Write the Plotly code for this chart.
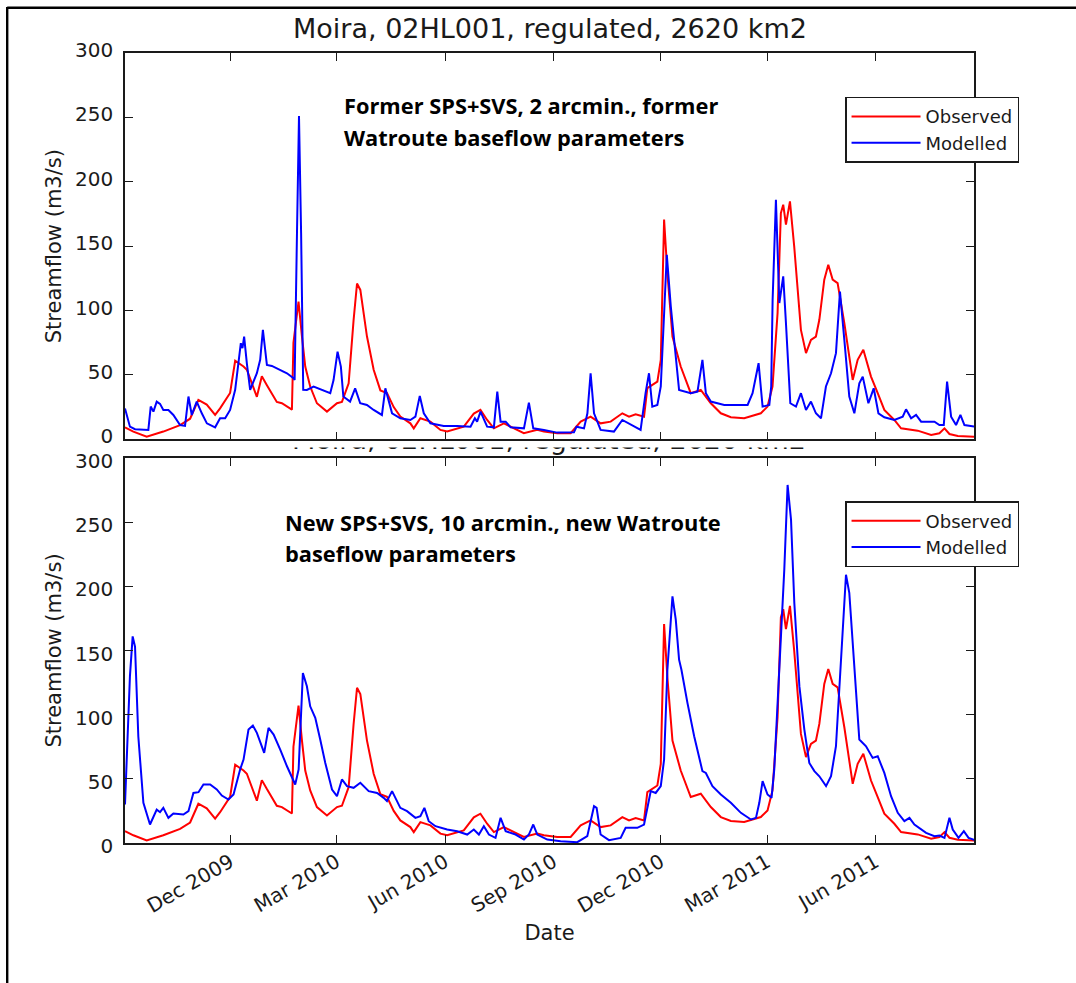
import pandas as pd
import plotly.graph_objects as go

# ---------------- data ----------------
START = "2009-09-01"   # day 0 of the day offsets below

obs_day = [1.7, 8.8, 20.1, 34.2, 48.4, 56.9, 63.9, 71.0, 78.1, 82.3, 90.8, 95.1, 102.2, 105.0,
           113.5, 117.7, 122.0, 130.4, 134.7, 143.2, 144.5, 147.5, 148.8, 151.7, 154.5, 158.7,
           164.4, 172.9, 181.4, 185.6, 191.3, 195.5, 198.4, 201.2, 206.8, 212.5, 218.2, 223.8,
           229.5, 235.1, 243.6, 246.5, 252.1, 260.6, 269.1, 274.8, 288.9, 297.4, 303.0, 308.7,
           314.4, 322.9, 331.4, 339.8, 351.2, 356.8, 368.1, 379.5, 388.0, 396.4, 404.9, 413.4,
           423.3, 429.0, 434.6, 441.7, 444.5, 453.0, 455.9, 458.7, 461.5, 465.8, 472.8, 481.3,
           489.8, 498.3, 506.8, 515.3, 526.6, 535.1, 540.7, 546.4, 550.6, 554.9, 557.7, 559.7,
           562.0, 565.4, 569.0, 574.7, 579.0, 583.2, 587.4, 590.3, 594.5, 597.9, 601.6, 605.8,
           611.5, 618.6, 622.8, 627.6, 634.1, 639.8, 645.4, 653.9, 659.6, 673.7, 685.1, 692.1,
           696.4, 700.6, 707.7, 722.4]
obs_flow = [9.3, 6.0, 2.0, 6.0, 11.0, 16.0, 30.6, 27.0, 19.0, 24.0, 36.0, 61.0, 56.5, 54.0,
            33.0, 49.0, 42.0, 29.0, 28.0, 23.0, 75.0, 100.0, 107.0, 80.0, 56.5, 41.0,
            28.0, 21.5, 28.0, 29.0, 43.5, 92.7, 121.0, 116.0, 80.0, 54.0, 38.0, 36.0,
            25.0, 17.6, 12.4, 8.5, 16.3, 13.7, 7.3, 6.0, 9.8, 20.0, 22.8, 15.0,
            8.5, 12.4, 8.5, 4.7, 7.3, 6.0, 4.7, 4.7, 13.7, 17.6, 12.4, 13.7,
            20.2, 17.6, 19.4, 17.6, 39.7, 44.8, 61.7, 170.6, 129.0, 79.8, 56.5, 35.8,
            38.4, 28.0, 20.2, 17.1, 16.3, 18.9, 20.2, 25.4, 41.0, 98.0, 175.7, 182.2,
            166.7, 184.8, 149.8, 85.0, 66.9, 77.2, 79.8, 92.8, 124.0, 135.6, 124.0, 121.3,
            90.2, 46.1, 61.7, 69.5, 48.7, 35.8, 22.8, 15.0, 8.5, 6.7, 3.4, 4.7,
            8.5, 4.1, 2.6, 2.0]

# Modelled: former SPS+SVS, 2 arcmin., former Watroute baseflow parameters
mod_old_day = [1.7, 5.9, 10.2, 21.5, 23.5, 25.8, 28.6, 31.4, 34.2, 38.5, 42.7, 48.4, 52.6, 55.5,
               58.3, 62.5, 66.8, 71.1, 78.1, 82.3, 86.6, 90.8, 95.1, 97.9, 99.9, 101.3, 102.7,
               105.0, 107.8, 113.5, 116.3, 118.6, 122.0, 126.2, 133.3, 139.0, 144.6, 145.5,
               147.5, 149.2, 151.0, 152.8, 155.9, 161.6, 175.7, 178.5, 181.9, 184.7, 186.8,
               192.5, 196.8, 201.1, 206.8, 212.5, 219.5, 222.4, 228.1, 235.1, 243.6, 247.9,
               251.6, 255.0, 260.6, 271.9, 283.3, 294.6, 298.3, 300.2, 303.1, 308.7, 314.4,
               317.3, 320.1, 324.4, 328.6, 339.9, 344.1, 347.8, 356.8, 368.1, 382.3, 384.5,
               390.8, 393.7, 396.4, 399.3, 404.9, 416.2, 423.3, 438.8, 443.0, 445.9, 448.7,
               453.0, 455.9, 458.7, 461.0, 464.4, 466.6, 468.9, 471.4, 481.3, 487.0, 491.2,
               494.1, 498.3, 509.7, 529.5, 533.7, 538.8, 542.2, 547.9, 549.5, 550.7, 553.5,
               556.4, 559.7, 562.0, 565.7, 570.5, 574.7, 579.0, 583.2, 587.4, 591.7, 595.9,
               600.2, 604.4, 607.8, 611.5, 615.7, 620.0, 624.2, 627.1, 631.9, 636.4, 640.4,
               645.4, 653.9, 661.0, 663.8, 668.1, 672.3, 676.6, 687.9, 692.1, 695.8, 698.6,
               702.0, 706.2, 709.9, 713.3, 722.4]
mod_old_flow = [24.0, 9.8, 7.8, 7.3, 25.4, 21.5, 29.3, 27.5, 22.8, 22.8, 18.9, 11.1, 10.4, 33.2,
                18.9, 29.3, 20.2, 12.4, 9.3, 16.3, 16.3, 22.8, 38.4, 59.1, 74.6, 70.8, 79.8,
                59.0, 38.4, 51.3, 61.7, 85.0, 57.8, 57.0, 53.9, 51.3, 47.4, 46.0,
                160.0, 251.0, 160.0, 38.4, 38.3, 41.0, 35.8, 46.0, 68.1, 56.5, 33.2,
                29.3, 39.6, 28.0, 26.7, 22.8, 18.9, 39.6, 20.2, 16.3, 15.0, 17.6,
                33.7, 20.2, 12.4, 10.4, 10.4, 9.8, 16.3, 13.7, 21.5, 9.8, 9.3,
                37.0, 13.7, 13.7, 9.3, 8.5, 28.5, 8.5, 7.3, 5.2, 5.4, 9.8,
                8.5, 20.2, 51.3, 20.2, 7.3, 6.0, 15.0, 7.3, 35.8, 51.3, 25.4,
                26.7, 41.0, 103.0, 143.3, 103.0, 82.4, 61.7, 38.4, 35.8, 37.0, 61.7,
                35.8, 29.3, 26.7, 26.7, 35.8, 59.1, 25.4, 26.7, 41.0, 108.3, 186.0,
                105.8, 126.5, 90.2, 28.0, 25.4, 35.8, 22.8, 29.3, 20.2, 16.3, 41.0,
                51.3, 66.9, 114.8, 77.2, 33.2, 20.2, 43.5, 48.7, 28.0, 39.6, 20.2,
                17.1, 15.0, 17.6, 23.3, 16.3, 18.9, 13.7, 13.7, 11.1, 11.1, 44.8,
                17.6, 11.1, 18.9, 11.1, 9.8]

# Modelled: new SPS+SVS, 10 arcmin., new Watroute baseflow parameters
mod_new_day = [1.7, 5.9, 8.2, 10.2, 13.0, 17.3, 22.9, 28.6, 31.4, 34.2, 38.5, 42.7, 51.2, 55.5,
               59.7, 64.0, 68.2, 73.9, 79.5, 83.8, 89.4, 93.7, 99.3, 102.2, 106.4, 110.1,
               113.5, 119.7, 123.4, 127.7, 133.3, 139.0, 146.0, 148.9, 152.5, 155.9, 158.7,
               163.0, 167.2, 171.5, 177.2, 181.4, 185.6, 189.9, 195.5, 201.2, 208.3, 215.4,
               221.0, 223.8, 228.1, 235.1, 240.8, 247.9, 252.1, 255.5, 259.2, 264.9, 274.8,
               283.3, 291.8, 297.4, 301.7, 305.9, 310.2, 315.8, 320.1, 324.4, 332.8, 339.9,
               344.1, 347.8, 351.2, 359.7, 371.0, 385.1, 393.6, 399.3, 401.5, 404.9, 412.0,
               421.9, 426.1, 436.0, 441.7, 447.4, 451.6, 455.9, 458.7, 461.5, 465.8, 468.6,
               471.4, 473.4, 478.5, 484.2, 491.2, 494.1, 499.7, 506.8, 515.3, 523.8, 532.3,
               536.6, 539.4, 542.2, 546.4, 549.8, 552.1, 556.4, 560.6, 563.4, 566.3, 569.1,
               573.4, 577.6, 581.8, 586.1, 590.3, 596.0, 600.2, 604.4, 608.7, 612.9, 615.7,
               620.0, 624.2, 629.9, 635.5, 639.8, 645.4, 651.1, 656.8, 662.4, 666.7, 670.9,
               675.2, 680.8, 687.9, 692.1, 696.4, 700.6, 703.4, 708.3, 712.8, 716.8, 722.4]
mod_new_flow = [30.0, 130.0, 161.0, 153.0, 83.0, 31.3, 14.4, 26.0, 24.0, 27.4, 19.6, 23.0, 22.2, 24.8,
                39.0, 39.6, 45.6, 45.6, 41.7, 37.0, 33.9, 37.8, 57.3, 65.0, 88.4, 91.5,
                85.8, 70.2, 89.7, 84.5, 72.8, 59.8, 45.6, 57.3, 132.5, 122.1, 106.5,
                97.5, 80.6, 62.4, 41.7, 36.5, 49.5, 44.3, 43.0, 46.9, 40.4, 39.0,
                35.2, 32.6, 40.4, 27.4, 24.8, 19.6, 20.9, 27.4, 17.0, 13.1, 10.5,
                9.2, 6.6, 10.5, 6.6, 13.1, 6.6, 4.0, 19.6, 9.2, 6.6, 2.7,
                6.6, 14.4, 6.6, 2.7, 1.4, 0.6, 5.3, 28.7, 27.4, 6.6, 2.2,
                4.0, 11.8, 11.8, 14.4, 40.4, 39.0, 44.3, 65.0, 135.0, 192.2, 174.0,
                142.9, 135.0, 109.2, 83.2, 56.0, 54.6, 44.3, 37.8, 31.3, 23.5, 18.3,
                19.6, 31.3, 48.2, 37.8, 35.2, 57.3, 135.0, 213.0, 279.0, 252.0, 187.0,
                122.0, 88.4, 62.4, 56.0, 52.0, 44.3, 52.0, 75.4, 148.0, 209.0, 195.0,
                135.0, 80.6, 75.4, 66.3, 67.6, 54.6, 36.5, 23.5, 17.0, 19.6, 14.4,
                11.8, 7.9, 5.3, 5.8, 4.0, 19.6, 10.5, 4.0, 9.2, 4.0, 2.2]

tick_dates = ["2009-12-01", "2010-03-01", "2010-06-01", "2010-09-01",
              "2010-12-01", "2011-03-01", "2011-06-01"]
tick_labels = ["Dec 2009", "Mar 2010", "Jun 2010", "Sep 2010",
               "Dec 2010", "Mar 2011", "Jun 2011"]
y_ticks = [0, 50, 100, 150, 200, 250, 300]
x_range = ["2009-09-02 17:00", "2011-08-23 10:00"]

TITLE = "Moira, 02HL001, regulated, 2620 km2"
TOP_NOTE = ["Former SPS+SVS, 2 arcmin., former", "Watroute baseflow parameters"]
BOTTOM_NOTE = ["New SPS+SVS, 10 arcmin., new Watroute", "baseflow parameters"]


def to_dates(days):
    return pd.Timestamp(START) + pd.to_timedelta(days, unit="D")


RED = "#ff0000"
BLUE = "#0000ff"
INK = "#1a1a1a"
FONT = "DejaVu Sans"
NOTE_FONT = dict(family="Open Sans", size=21.8, color="black", weight="bold")

fig = go.Figure()
fig.add_trace(go.Scatter(x=to_dates(obs_day), y=obs_flow, mode="lines", name="Observed",
                         line=dict(color=RED, width=2), xaxis="x", yaxis="y", legend="legend"))
fig.add_trace(go.Scatter(x=to_dates(mod_old_day), y=mod_old_flow, mode="lines", name="Modelled",
                         line=dict(color=BLUE, width=2), xaxis="x", yaxis="y", legend="legend"))
fig.add_trace(go.Scatter(x=to_dates(obs_day), y=obs_flow, mode="lines", name="Observed",
                         line=dict(color=RED, width=2), xaxis="x2", yaxis="y2", legend="legend2"))
fig.add_trace(go.Scatter(x=to_dates(mod_new_day), y=mod_new_flow, mode="lines", name="Modelled",
                         line=dict(color=BLUE, width=2), xaxis="x2", yaxis="y2", legend="legend2"))
# second (mostly hidden) copy of the title, peeking out between the two panels
fig.add_trace(go.Scatter(x=[0.4994], y=[1.58], mode="text", text=[TITLE],
                         textposition="middle center",
                         textfont=dict(family=FONT, size=27, color=INK),
                         xaxis="x3", yaxis="y3", cliponaxis=True, showlegend=False,
                         hoverinfo="skip"))

axis_common = dict(showline=True, linecolor=INK, linewidth=1.5, mirror="ticks",
                   ticks="inside", ticklen=8, tickwidth=1.3, tickcolor=INK,
                   showgrid=False, zeroline=False,
                   tickfont=dict(family=FONT, size=20, color=INK))

x_common = dict(axis_common, type="date", range=x_range, tickvals=tick_dates,
                ticktext=tick_labels)
y_common = dict(axis_common, range=[0, 300], tickvals=y_ticks, ticklabelstandoff=6,
                title=dict(text="Streamflow (m3/s)", font=dict(family=FONT, size=21, color=INK),
                           standoff=8))

TOP_DOM = [0.51101, 1.0]
BOT_DOM = [0.0, 0.48734]

legend_common = dict(bgcolor="white", bordercolor=INK, borderwidth=1.5,
                     font=dict(family=FONT, size=18, color=INK),
                     xanchor="left", yanchor="top", x=0.8481,
                     itemwidth=69, tracegroupgap=0)

fig.update_layout(
    width=1076, height=983,
    margin=dict(l=125, r=102, t=53, b=140),
    paper_bgcolor="white", plot_bgcolor="white",
    font=dict(family=FONT, color=INK),
    showlegend=True,
    xaxis=dict(x_common, domain=[0, 1], anchor="y", showticklabels=False),
    yaxis=dict(y_common, domain=TOP_DOM, anchor="x", ticklabelshift=-3),
    xaxis2=dict(x_common, domain=[0, 1], anchor="y2", tickangle=-30, ticklabelstandoff=-2,
                title=dict(text="Date", font=dict(family=FONT, size=21, color=INK), standoff=9)),
    yaxis2=dict(y_common, domain=BOT_DOM, anchor="x2", ticklabelshift=3),
    xaxis3=dict(domain=[0, 1], anchor="y3", range=[0, 1], visible=False),
    yaxis3=dict(domain=[0.48861, 0.50063], anchor="x3", range=[0, 1], visible=False),
    legend=dict(legend_common, y=0.94468),
    legend2=dict(legend_common, y=0.43291),
    annotations=[
        dict(text=TITLE, xref="paper", yref="paper", x=0.5, y=1.0309, xanchor="center",
             yanchor="middle", showarrow=False, font=dict(family=FONT, size=27, color=INK)),
        dict(text=TOP_NOTE[0], xref="paper", yref="paper", x=0.2556, y=0.93354,
             xanchor="left", yanchor="middle", showarrow=False, font=NOTE_FONT),
        dict(text=TOP_NOTE[1], xref="paper", yref="paper", x=0.2556, y=0.89304,
             xanchor="left", yanchor="middle", showarrow=False, font=NOTE_FONT),
        dict(text=BOTTOM_NOTE[0], xref="paper", yref="paper", x=0.1861, y=0.40570,
             xanchor="left", yanchor="middle", showarrow=False, font=NOTE_FONT),
        dict(text=BOTTOM_NOTE[1], xref="paper", yref="paper", x=0.1861, y=0.36646,
             xanchor="left", yanchor="middle", showarrow=False, font=NOTE_FONT),
    ],
    shapes=[
        dict(type="line", xref="paper", yref="paper", x0=-0.13875, x1=-0.13875,
             y0=1.0582, y1=-0.25, line=dict(color="black", width=2.4)),
        dict(type="line", xref="paper", yref="paper", x0=-0.13875, x1=1.25,
             y0=1.05722, y1=1.05722, line=dict(color="black", width=2.4)),
    ],
)

fig.write_html("out.html")
